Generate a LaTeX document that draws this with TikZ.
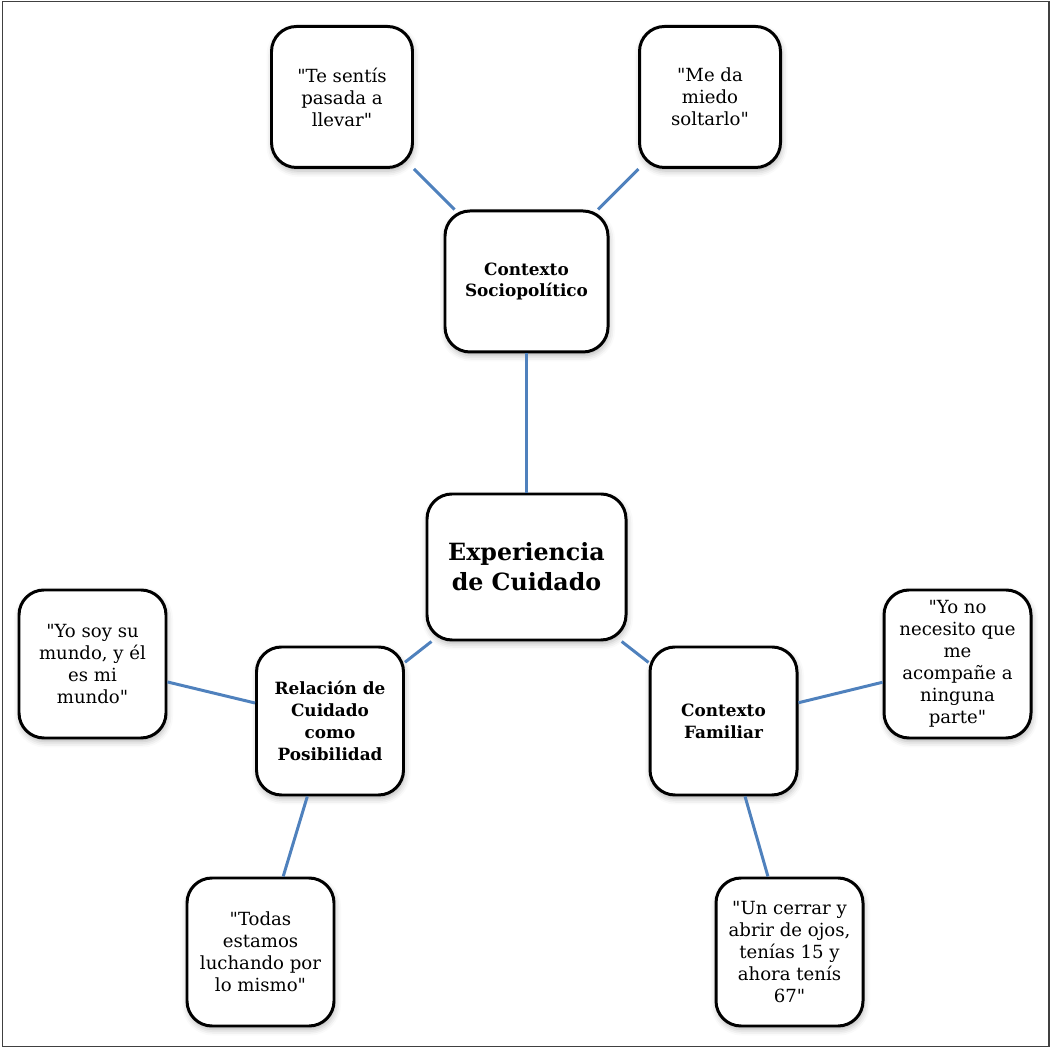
\documentclass[tikz,border=0pt]{standalone}
\usepackage{fontspec}
\setmainfont{DejaVu Serif}[Ligatures=TeXOff]
\usetikzlibrary{shadows.blur}
\definecolor{linkblue}{RGB}{79,129,189}
\tikzset{
  card/.style={draw=black,line width=1.7pt,rounded corners=0.5cm,fill=white,
    align=center,inner sep=0pt,
    blur shadow={shadow xshift=0.02cm,shadow yshift=-0.07cm,
      shadow blur radius=0.12cm,shadow opacity=30}},
  quotebox/.style={card,minimum width=2.94cm,minimum height=2.96cm,
    font=\fontsize{10.3}{12.5}\selectfont},
  themebox/.style={card,minimum width=2.94cm,minimum height=2.96cm,
    font=\fontsize{9.6}{12.5}\selectfont\bfseries},
  corebox/.style={card,minimum width=3.98cm,minimum height=2.92cm,
    font=\fontsize{13.5}{17}\selectfont\bfseries},
  link/.style={linkblue,line width=1.7pt}
}

\begin{document}
\begin{tikzpicture}
\useasboundingbox (0,0) rectangle (21.04,20.98);
\draw[black!75,line width=1pt] (0.05,0.05) rectangle (20.98,20.95);
\node[corebox] (core) at (10.53,9.64) {Experiencia\\de Cuidado};
\node[themebox,minimum width=3.26cm,minimum height=2.82cm] (socio) at (10.53,15.35)
  {Contexto\\Sociopolítico};
\node[themebox] (rel) at (6.60,6.56) {Relación de\\Cuidado\\como\\Posibilidad};
\node[themebox] (fam) at (14.47,6.56) {Contexto\\Familiar};
\node[quotebox,minimum width=2.82cm,minimum height=2.82cm] (q1) at (6.84,19.04)
  {"Te sentís\\pasada a\\llevar"};
\node[quotebox,minimum width=2.82cm,minimum height=2.82cm] (q2) at (14.20,19.04)
  {"Me da\\miedo\\soltarlo"};
\node[quotebox] (q3) at (1.85,7.70) {"Yo soy su\\mundo, y él\\es mi\\mundo"};
\node[quotebox] (q4) at (19.15,7.70) {"Yo no\\necesito que\\me\\acompañe a\\ninguna\\parte"};
\node[quotebox] (q5) at (5.21,1.94) {"Todas\\estamos\\luchando por\\lo mismo"};
\node[quotebox] (q6) at (15.79,1.94) {"Un cerrar y\\abrir de ojos,\\tenías 15 y\\ahora tenís\\67"};
\foreach \a/\b in {q1/socio,q2/socio,socio/core,core/rel,core/fam,rel/q3,fam/q4,rel/q5,fam/q6}
  \draw[link] (\a) -- (\b);
\end{tikzpicture}
\end{document}
